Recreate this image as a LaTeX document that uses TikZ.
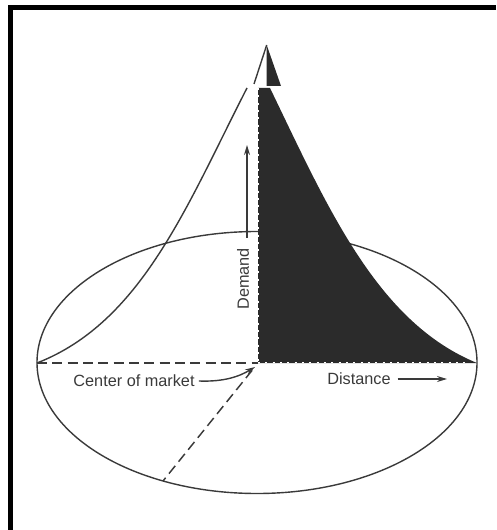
\documentclass[tikz,border=0pt]{standalone}
\usepackage{fontspec}
\setmainfont{Liberation Sans}
\usetikzlibrary{arrows.meta}
\definecolor{ink}{HTML}{3A3A3A}
\definecolor{darkfill}{HTML}{2B2B2B}
\begin{document}
\begin{tikzpicture}[x=0.75pt,y=-0.75pt,
  thinline/.style={ink,line width=1.05pt},
  dashline/.style={ink,line width=1.1pt,dash pattern=on 7.5pt off 4pt},
  edgedash/.style={white,line width=0.6pt,dash pattern=on 1.5pt off 4pt},
  lbl/.style={ink,font=\fontsize{12.2}{14}\selectfont,inner sep=0pt},
  arr/.style={-{Stealth[length=7.5pt,width=4.5pt]}}]
\useasboundingbox (0,0) rectangle (496,530);
% frame (scan border)
\fill[black] (8,5) rectangle (496,10);
\fill[black] (8,5) rectangle (13,530);
% key points
\coordinate (C) at (258,363);
\coordinate (L) at (37,363);
\coordinate (R) at (477,363);
\coordinate (T1) at (258,88);
\coordinate (T2) at (270,88);
\coordinate (B) at (163,481);
\coordinate (tip) at (266.7,45);
% market area
\draw[thinline] (257,362.5) ellipse [x radius=220, y radius=131];
% shaded half-section
\fill[darkfill] (C) -- (T1) -- (T2) .. controls (328,208) and (377,322) .. (R) -- cycle;
\fill[darkfill] (tip) -- (281,86) -- (266.7,86) -- cycle;
% faint dashed edges of the section
\draw[edgedash] ([xshift=0.6pt]T1) -- ([xshift=0.6pt]C);
\draw[edgedash] ([yshift=0.6pt]C) -- ([xshift=-6pt,yshift=0.6pt]R);
% left side of the demand cone
\draw[thinline] (L) .. controls (142,322) and (187,205) .. (247,88);
\draw[thinline] (254,84) -- (tip);
% dashed radii
\draw[dashline] (L) -- (C);
\draw[dashline,shorten <=7pt] (C) -- (B);
% labels
\node[lbl,rotate=90] (demand) at (243,279) {Demand};
\coordinate (d0) at (247,238);
\coordinate (d1) at (247,145);
\draw[thinline,arr] (d0) -- (d1);
\node[lbl] (center) at (134,381) {Center of market};
\coordinate (ca) at (255,367);
\draw[thinline,arr] ([xshift=3pt]center.east) .. controls (225,382) and (240,376) .. (ca);
\node[lbl] (dist) at (359,379) {Distance};
\coordinate (de) at (447,379);
\draw[thinline,arr] ([xshift=5pt]dist.east) -- (de);
\end{tikzpicture}
\end{document}
